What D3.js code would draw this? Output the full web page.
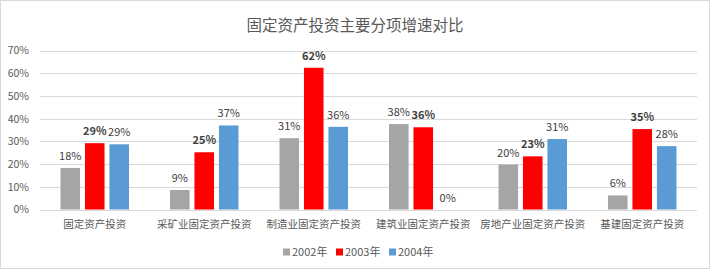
<!DOCTYPE html>
<html>
<head>
<meta charset="utf-8">
<script src="https://cdn.jsdelivr.net/npm/d3@7"></script>
<style>
  body { margin: 0; background: #fff; }
  svg { display: block; font-family: "Noto Sans CJK SC", "Noto Sans", sans-serif; }
</style>
</head>
<body>
<svg id="chart"></svg>
<script>
// data
let categorias = ["固定资产投资", "采矿业固定资产投资", "制造业固定资产投资", "建筑业固定资产投资", "房地产业固定资产投资", "基建固定资产投资"];
let series = ["2002年", "2003年", "2004年"];
let v2002 = [0.183, 0.086, 0.314, 0.376, 0.198, 0.062];
let v2003 = [0.292, 0.252, 0.624, 0.362, 0.234, 0.354];
let v2004 = [0.287, 0.370, 0.364, 0.0, 0.310, 0.279];
let ticks = [0, 0.1, 0.2, 0.3, 0.4, 0.5, 0.6, 0.7];
let colores = ["#A5A5A5", "#FF0000", "#5B9BD5"];

let valores = [v2002, v2003, v2004];

let W = 710, H = 269;
let misvg = d3.select("#chart")
  .attr("width", W)
  .attr("height", H);

// fondo y borde
misvg.append("rect")
  .attr("x", 0.5).attr("y", 0.5)
  .attr("width", W - 1).attr("height", H - 1)
  .attr("fill", "#fff")
  .attr("stroke", "#d9d9d9");

// titulo
misvg.append("text")
  .attr("x", W / 2)
  .attr("y", 31)
  .attr("text-anchor", "middle")
  .attr("font-size", 15.5)
  .attr("fill", "#595959")
  .text("固定资产投资主要分项增速对比");

let x0 = d3.scaleBand()
  .domain(categorias)
  .range([40, 697]);

let x1 = d3.scaleBand()
  .domain(series)
  .range([x0.bandwidth() / 2 - 34.25, x0.bandwidth() / 2 + 34.25])
  .paddingInner(0.2);

let y = d3.scaleLinear()
  .domain([0, 0.7])
  .range([209.5, 50.5]);

// lineas de cuadricula
misvg.append("g")
  .selectAll("line")
  .data(ticks)
  .enter()
  .append("line")
  .attr("x1", 40)
  .attr("x2", 697)
  .attr("y1", d => Math.round(y(d)) + 0.5)
  .attr("y2", d => Math.round(y(d)) + 0.5)
  .attr("stroke", "#d9d9d9")
  .attr("stroke-width", 1);

// eje y
let ejeY = d3.axisLeft(y)
  .tickValues(ticks)
  .tickFormat(d3.format(".0%"))
  .tickSize(0)
  .tickPadding(0);

misvg.append("g")
  .attr("transform", "translate(29,0)")
  .call(ejeY)
  .call(g => g.select(".domain").remove())
  .selectAll("text")
  .attr("font-size", 10.5)
  .attr("fill", "#595959")
  .attr("font-family", "\"Noto Sans CJK SC\", sans-serif");

// eje x
let ejeX = d3.axisBottom(x0).tickSize(0).tickPadding(0);
misvg.append("g")
  .attr("transform", "translate(0,221)")
  .call(ejeX)
  .call(g => g.select(".domain").remove())
  .selectAll("text")
  .attr("font-size", 10.5)
  .attr("fill", "#595959")
  .attr("font-family", "\"Noto Sans CJK SC\", sans-serif");

// barras
let grupos = misvg.append("g")
  .selectAll("g")
  .data(series)
  .enter()
  .append("g")
  .attr("fill", (d, i) => colores[i]);

grupos.selectAll("rect")
  .data((s, si) => valores[si].map((v, ci) => ({ s: s, c: categorias[ci], v: v })))
  .enter()
  .append("rect")
  .attr("x", d => x0(d.c) + x1(d.s))
  .attr("y", d => y(d.v))
  .attr("width", x1.bandwidth())
  .attr("height", d => y(0) - y(d.v));

// etiquetas
grupos.selectAll("text")
  .data((s, si) => valores[si].map((v, ci) => ({ s: s, c: categorias[ci], v: v, si: si })))
  .enter()
  .append("text")
  .attr("x", d => x0(d.c) + x1(d.s) + x1.bandwidth() / 2)
  .attr("y", d => y(d.v) - 8)
  .attr("text-anchor", "middle")
  .attr("font-size", 11)
  .attr("font-weight", d => d.si === 1 ? "bold" : "normal")
  .attr("fill", "#404040")
  .text(d => Math.round(d.v * 100) + "%");

// leyenda
let leyendaX = [283, 336, 389];
let leyenda = misvg.append("g")
  .selectAll("g")
  .data(series)
  .enter()
  .append("g")
  .attr("transform", (d, i) => "translate(" + leyendaX[i] + ",252)");

leyenda.append("rect")
  .attr("x", 0).attr("y", -3.5)
  .attr("width", 7).attr("height", 7)
  .attr("fill", (d, i) => colores[i]);

leyenda.append("text")
  .attr("x", 9)
  .attr("y", 4)
  .attr("font-size", 11)
  .attr("fill", "#595959")
  .text(d => d);
</script>
</body>
</html>
